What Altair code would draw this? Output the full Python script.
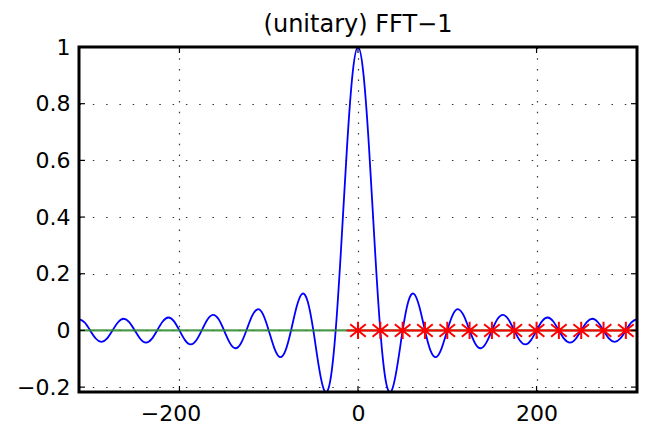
import altair as alt
import pandas as pd

# blue curve samples (x, value)
curve_x = [-312.5, -306.25, -300, -293.75, -287.5, -281.25, -275, -268.75, -262.5, -256.25,
           -250, -243.75, -237.5, -231.25, -225, -218.75, -212.5, -206.25, -200, -193.75,
           -187.5, -181.25, -175, -168.75, -162.5, -156.25, -150, -143.75, -137.5, -131.25,
           -125, -118.75, -112.5, -106.25, -100, -93.75, -87.5, -81.25, -75, -68.75,
           -62.5, -56.25, -50, -43.75, -37.5, -31.25, -25, -18.75, -12.5, -6.25,
           0,
           6.25, 12.5, 18.75, 25, 31.25, 37.5, 43.75, 50, 56.25, 62.5,
           68.75, 75, 81.25, 87.5, 93.75, 100, 106.25, 112.5, 118.75, 125,
           131.25, 137.5, 143.75, 150, 156.25, 162.5, 168.75, 175, 181.25, 187.5,
           193.75, 200, 206.25, 212.5, 218.75, 225, 231.25, 237.5, 243.75, 250,
           256.25, 262.5, 268.75, 275, 281.25, 287.5, 293.75, 300, 306.25, 312.5]
curve_y = [0.0400, 0.0283, 0.0, -0.0284, -0.0403, -0.0286, 0.0, 0.0290, 0.0413, 0.0295,
           0.0, -0.0301, -0.0430, -0.0308, 0.0, 0.0317, 0.0456, 0.0329, 0.0, -0.0342,
           -0.0494, -0.0358, 0.0, 0.0377, 0.0549, 0.0400, 0.0, -0.0428, -0.0628, -0.0461,
           0.0, 0.0503, 0.0747, 0.0556, 0.0, -0.0623, -0.0939, -0.0712, 0.0, 0.0835,
           0.1294, 0.1014, 0.0, -0.1297, -0.2135, -0.1808, 0.0, 0.3006, 0.6370, 0.9005,
           1.0,
           0.9005, 0.6370, 0.3006, 0.0, -0.1808, -0.2135, -0.1297, 0.0, 0.1014, 0.1294,
           0.0835, 0.0, -0.0712, -0.0939, -0.0623, 0.0, 0.0556, 0.0747, 0.0503, 0.0,
           -0.0461, -0.0628, -0.0428, 0.0, 0.0400, 0.0549, 0.0377, 0.0, -0.0358, -0.0494,
           -0.0342, 0.0, 0.0329, 0.0456, 0.0317, 0.0, -0.0308, -0.0430, -0.0301, 0.0,
           0.0295, 0.0413, 0.0290, 0.0, -0.0286, -0.0403, -0.0284, 0.0, 0.0283, 0.0400]

# green zero line
green_x = [-312.5, 312.5]
green_y = [0.0, 0.0]

# red star samples
star_x = [0, 25, 50, 75, 100, 125, 150, 175, 200, 225, 250, 275, 300]
star_y = [0.0] * len(star_x)

# axes
x_ticks = [-200, 0, 200]
y_ticks = [-0.2, 0, 0.2, 0.4, 0.6, 0.8, 1]
x_domain = [-312.5, 312.5]
y_domain = [-0.2172, 1.0]
title_text = "(unitary) FFT\u22121"

FONT = "DejaVu Sans"
W, H = 558, 345

curve_df = pd.DataFrame({"x": curve_x, "y": curve_y})
green_df = pd.DataFrame({"x": green_x, "y": green_y})
star_df = pd.DataFrame({"x": star_x, "y": star_y})
xt_df = pd.DataFrame({"x": x_ticks})
yt_df = pd.DataFrame({"y": y_ticks})
one_df = pd.DataFrame({"t": [title_text]})

xscale = alt.Scale(domain=x_domain, nice=False, zero=False)
yscale = alt.Scale(domain=y_domain, nice=False, zero=False)

xaxis = alt.Axis(values=x_ticks, title=None, grid=True, gridColor="black",
                 gridDash=[1.5, 9.2], gridWidth=1.2, gridOpacity=0.8,
                 domain=False, ticks=False, labelFont=FONT, labelFontSize=22,
                 labelColor="black", labelPadding=11, labelFlush=False,
                 labelOffset={"condition": {"test": "datum.value < 0", "value": -9}, "value": 0})
yaxis = alt.Axis(values=y_ticks, title=None, grid=True, gridColor="black",
                 gridDash=[1.5, 11.8], gridWidth=1.2, gridOpacity=0.8, format="~g",
                 domain=False, ticks=False, labelFont=FONT, labelFontSize=22,
                 labelColor="black", labelPadding=9, labelFlush=False)

X = alt.X("x:Q", scale=xscale, axis=xaxis)
Y = alt.Y("y:Q", scale=yscale, axis=yaxis)

blue = alt.Chart(curve_df).mark_line(color="#0000ff", strokeWidth=1.8,
                                     interpolate="natural", clip=True).encode(x=X, y=Y)

green = alt.Chart(green_df).mark_line(color="#2e8b2e", strokeWidth=2.2, opacity=0.85).encode(x=X, y=Y)

star_path = "M-1.3,0L1.3,0M0,-1L0,1M-0.9,-0.72L0.9,0.72M-0.9,0.72L0.9,-0.72"
stars = alt.Chart(star_df).mark_point(shape=star_path, size=300, filled=False,
                                      color="#ff0000", strokeWidth=2, opacity=1).encode(x=X, y=Y)

tick_style = dict(color="black", strokeWidth=1.2)
left_ticks = alt.Chart(yt_df).mark_rule(**tick_style).encode(
    y=Y, x=alt.value(0), x2=alt.value(6))
right_ticks = alt.Chart(yt_df).mark_rule(**tick_style).encode(
    y=Y, x=alt.value(W), x2=alt.value(W - 6))
bottom_ticks = alt.Chart(xt_df).mark_rule(**tick_style).encode(
    x=X, y=alt.value(H), y2=alt.value(H - 6))
top_ticks = alt.Chart(xt_df).mark_rule(**tick_style).encode(
    x=X, y=alt.value(0), y2=alt.value(6))

frame = alt.Chart(one_df).mark_rect(fill="white", fillOpacity=0, stroke="black",
                                    strokeWidth=3, strokeOpacity=1).encode(
    x=alt.value(0), x2=alt.value(W), y=alt.value(0), y2=alt.value(H))

title = alt.Chart(one_df).mark_text(
    font=FONT, fontSize=24, color="black", baseline="alphabetic", align="center").encode(
    text="t:N", x=alt.value(W / 2), y=alt.value(-15))

chart = alt.layer(blue, green, stars, left_ticks, right_ticks, bottom_ticks, top_ticks,
                  frame, title).properties(
    width=W, height=H,
    background="white",
    autosize=alt.AutoSizeParams(type="none"),
    padding={"left": 79, "top": 47, "right": 10, "bottom": 36},
).configure_view(stroke="black", strokeWidth=2, strokeOpacity=1)

chart.save("out.html", embed_options={"renderer": "svg", "actions": False})
